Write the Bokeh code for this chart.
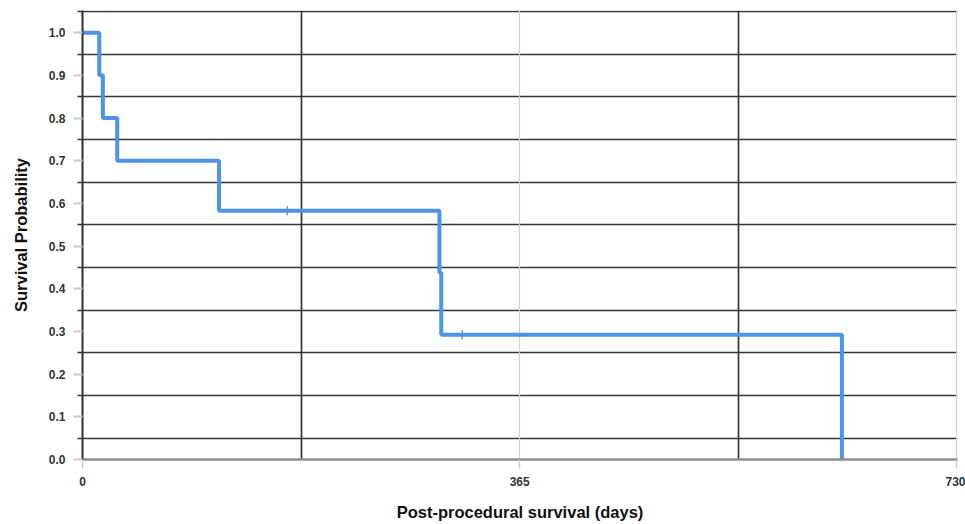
import math
from bokeh.plotting import figure
from bokeh.models import FixedTicker, Grid, Range1d, PrintfTickFormatter
from bokeh.embed import file_html
from bokeh.resources import INLINE

# Kaplan-Meier step data
days = [0, 14, 17, 29, 114, 298, 299.5, 634]
survival = [1.0, 0.9, 0.8, 0.7, 0.583, 0.4375, 0.292, 0.0]
censor_days = [171, 317]
censor_surv = [0.583, 0.292]

y_ticks = [0.0, 0.1, 0.2, 0.3, 0.4, 0.5, 0.6, 0.7, 0.8, 0.9, 1.0]
y_dark_lines = [0.05, 0.15, 0.25, 0.35, 0.45, 0.55, 0.65, 0.75, 0.85, 0.95, 1.05]
x_ticks = [0, 365, 730]
x_dark_lines = [182.5, 547.5]
x_light_lines = [365, 730]
x_title = "Post-procedural survival (days)"
y_title = "Survival Probability"

FONT = "Liberation Sans"
BLUE = "#4C93EA"

p = figure(width=965, height=524, x_range=Range1d(0, 730.5), y_range=Range1d(0, 1.052),
           output_backend="svg", toolbar_location=None,
           min_border_left=82, min_border_right=8, min_border_top=10, min_border_bottom=65)
p.outline_line_color = None
p.background_fill_color = "white"

p.xgrid.grid_line_color = None
p.ygrid.grid_line_color = None

p.add_layout(Grid(dimension=1, ticker=FixedTicker(ticks=y_dark_lines),
                  grid_line_color="#363636", grid_line_width=1.7))
p.add_layout(Grid(dimension=0, ticker=FixedTicker(ticks=x_light_lines),
                  grid_line_color="#cfcfcf", grid_line_width=1.2))
p.add_layout(Grid(dimension=0, ticker=FixedTicker(ticks=x_dark_lines),
                  grid_line_color="#363636", grid_line_width=1.7))

p.yaxis.ticker = FixedTicker(ticks=y_ticks, minor_ticks=y_dark_lines)
p.yaxis.formatter = PrintfTickFormatter(format="%.1f")
p.yaxis.axis_line_color = "#2f2f2f"
p.yaxis.axis_line_width = 2
p.yaxis.major_tick_line_color = "#c8c8c8"
p.yaxis.major_tick_line_width = 2
p.yaxis.major_tick_out = 9
p.yaxis.major_tick_in = 0
p.yaxis.minor_tick_line_color = "#363636"
p.yaxis.minor_tick_line_width = 1.7
p.yaxis.minor_tick_out = 5
p.yaxis.minor_tick_in = 0
p.yaxis.major_label_standoff = 8
p.yaxis.axis_label = y_title
p.yaxis.axis_label_standoff = 16

p.xaxis.ticker = FixedTicker(ticks=x_ticks)
p.xaxis.axis_line_color = "#8c8c8c"
p.xaxis.axis_line_width = 2.5
p.xaxis.major_tick_line_color = "#cfcfcf"
p.xaxis.major_tick_line_width = 1.5
p.xaxis.major_tick_out = 9
p.xaxis.major_tick_in = 0
p.xaxis.minor_tick_line_color = None
p.xaxis.major_label_standoff = 8
p.xaxis.axis_label = x_title
p.xaxis.axis_label_standoff = 14

for ax in (p.xaxis, p.yaxis):
    ax.major_label_text_font = FONT
    ax.major_label_text_font_style = "bold"
    ax.major_label_text_font_size = "12px"
    ax.major_label_text_color = "#333333"
    ax.axis_label_text_font = FONT
    ax.axis_label_text_font_style = "bold"
    ax.axis_label_text_font_size = "16.5px"
    ax.axis_label_text_color = "#111111"

p.step(days, survival, mode="after", line_color=BLUE, line_width=4)
p.scatter(censor_days, censor_surv, marker="dash", angle=math.pi / 2, size=9,
          line_color=BLUE, line_width=1.5)

open("out.html", "w").write(file_html(p, INLINE))
